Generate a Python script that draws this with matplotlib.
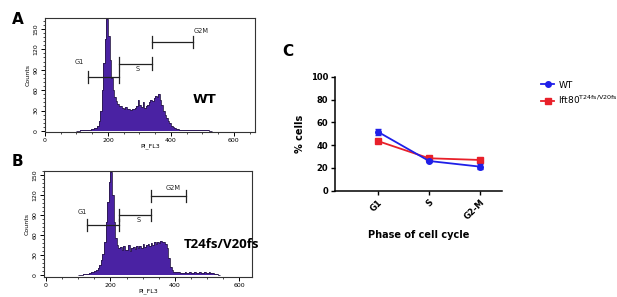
import matplotlib
matplotlib.use("Agg")
import matplotlib.pyplot as plt
import numpy as np
from matplotlib.ticker import MultipleLocator

# --- data ---
bin_start = 100
bin_width = 5

wt_counts = [0, 0, 1, 1, 1, 1, 2, 2, 2, 3, 3, 4, 5, 8, 14, 30, 60, 100, 135, 165,
             140, 105, 78, 60, 50, 44, 40, 37, 36, 34, 33, 35, 32, 33, 31, 33, 32, 34,
             36, 45, 38, 35, 42, 34, 36, 38, 42, 46, 44, 48, 52, 50, 55, 45, 38, 30,
             24, 19, 15, 11, 8, 6, 4, 3, 3, 2, 2, 2, 1, 2, 1, 1, 2, 1, 1, 1, 2, 1, 1,
             1, 2, 1, 1, 1, 0, 0]

mut_counts = [0, 0, 0, 1, 1, 2, 2, 3, 4, 5, 6, 8, 11, 15, 22, 32, 50, 80, 110, 140,
              155, 120, 80, 55, 45, 40, 42, 38, 44, 37, 38, 45, 36, 40, 42, 39, 44, 40,
              43, 41, 46, 42, 45, 47, 43, 48, 45, 49, 47, 50, 48, 51, 49, 50, 47, 40,
              25, 12, 7, 5, 4, 4, 4, 3, 3, 3, 4, 3, 3, 4, 3, 3, 4, 3, 3, 4, 3, 3, 4, 3,
              3, 4, 3, 3, 2, 1, 1, 0]

# gates: (name, start, end, height)
wt_gates = [("G1", 137, 235, 79), ("S", 235, 339, 99), ("G2M", 339, 469, 131)]
wt_gate_labels = [("G1", 108, 101), ("S", 293, 91), ("G2M", 497, 147)]
mut_gates = [("G1", 128, 226, 75), ("S", 226, 325, 90), ("G2M", 325, 434, 119)]
mut_gate_labels = [("G1", 114, 95), ("S", 289, 82), ("G2M", 393, 130)]

phases = ["G1", "S", "G2-M"]
wt_pct = [51.9, 26.1, 21.1]
wt_err = [2.5, 1.2, 2.0]
mut_pct = [43.7, 28.5, 27.0]
mut_err = [1.0, 1.0, 1.5]

hist_color = "#4a22a3"
edge_color = "#2a1a4a"
wt_color = "#1f1fe8"
mut_color = "#e8202a"


def draw_hist(ax, counts, gates, gate_labels, name, xlim, ylim, name_xy, name_kw):
    edges = bin_start + bin_width * np.arange(len(counts) + 1)
    ax.stairs(counts, edges, fill=True, color=hist_color, baseline=0)
    ax.stairs(counts, edges, color=edge_color, linewidth=0.6, baseline=None)
    for _, x0, x1, h in gates:
        ax.plot([x0, x1], [h, h], color="#222222", lw=0.9)
        for xe in (x0, x1):
            ax.plot([xe, xe], [h - 9, h + 9], color="#222222", lw=0.9)
    for lab, x, y in gate_labels:
        ax.text(x, y, lab, fontsize=4.8, ha="center", va="center", color="#222222")
    ax.text(name_xy[0], name_xy[1], name, ha="left", va="center", **name_kw)
    ax.set_xlim(*xlim)
    ax.set_ylim(*ylim)
    ax.set_xticks([0, 200, 400, 600])
    ax.xaxis.set_minor_locator(MultipleLocator(50))
    ax.set_yticks([0, 30, 60, 90, 120, 150])
    ax.yaxis.set_minor_locator(MultipleLocator(6))
    ax.tick_params(axis="both", which="major", labelsize=4.5, length=3, width=0.7,
                   pad=1.5, direction="out")
    ax.tick_params(axis="both", which="minor", length=1.5, width=0.5, direction="out")
    for lab in ax.get_yticklabels():
        lab.set_rotation(90)
        lab.set_va("center")
    for sp in ax.spines.values():
        sp.set_linewidth(0.8)
        sp.set_color("#333333")
    ax.set_ylabel("Counts", fontsize=4.5, labelpad=2)
    ax.set_xlabel("PI_FL3", fontsize=4.5, labelpad=0)


fig = plt.figure(figsize=(6.17, 2.97), dpi=100)

ax_a = fig.add_axes([0.0729, 0.5556, 0.3404, 0.3838])
draw_hist(ax_a, wt_counts, wt_gates, wt_gate_labels, "WT", (0, 667), (-1.5, 166),
          (470, 46), dict(fontsize=9.5, fontweight="bold", family="DejaVu Sans"))

ax_b = fig.add_axes([0.0713, 0.0673, 0.3371, 0.3569])
draw_hist(ax_b, mut_counts, mut_gates, mut_gate_labels, "T24fs/V20fs", (-6, 639),
          (-3, 156), (428, 46), dict(fontsize=9.5, fontweight="bold", family="Open Sans"))

# panel C
ax_c = fig.add_axes([0.543, 0.358, 0.2707, 0.3828])
x = np.arange(len(phases))
ax_c.errorbar(x, wt_pct, yerr=wt_err, fmt="none", ecolor=wt_color, capsize=2,
              elinewidth=1.2, zorder=3)
ax_c.plot(x, wt_pct, color=wt_color, marker="o", markersize=4, lw=1.3, label="WT",
          zorder=3)
ax_c.errorbar(x, mut_pct, yerr=mut_err, fmt="none", ecolor=mut_color, capsize=2,
              elinewidth=1.2, zorder=2)
ax_c.plot(x, mut_pct, color=mut_color, marker="s", markersize=4, lw=1.3,
          label=r"Ift80$^{\mathregular{T24fs/V20fs}}$", zorder=2)
ax_c.set_xlim(-0.83, 2.42)
ax_c.set_ylim(0, 100)
ax_c.set_yticks([0, 20, 40, 60, 80, 100])
ax_c.set_xticks(x)
ax_c.set_xticklabels(phases, rotation=45, ha="right", rotation_mode="anchor")
ax_c.tick_params(axis="both", labelsize=6, length=3, width=1, pad=2)
for lab in ax_c.get_xticklabels() + ax_c.get_yticklabels():
    lab.set_fontweight("bold")
ax_c.spines["top"].set_visible(False)
ax_c.spines["right"].set_visible(False)
for sp in ("left", "bottom"):
    ax_c.spines[sp].set_linewidth(1.1)
ax_c.set_ylabel("% cells", fontsize=7, fontweight="bold", labelpad=4)
ax_c.set_xlabel("Phase of cell cycle", fontsize=7, fontweight="bold", labelpad=6)
ax_c.legend(loc="upper left", bbox_to_anchor=(1.185, 1.04), frameon=False, fontsize=6.5,
            handlelength=1.45, handletextpad=0.45, labelspacing=0.5)

# panel letters
fig.text(0.019, 0.935, "A", fontsize=11, fontweight="bold", va="center")
fig.text(0.019, 0.455, "B", fontsize=11, fontweight="bold", va="center")
fig.text(0.458, 0.825, "C", fontsize=11, fontweight="bold", va="center")

fig.savefig("out.png", dpi=100)
